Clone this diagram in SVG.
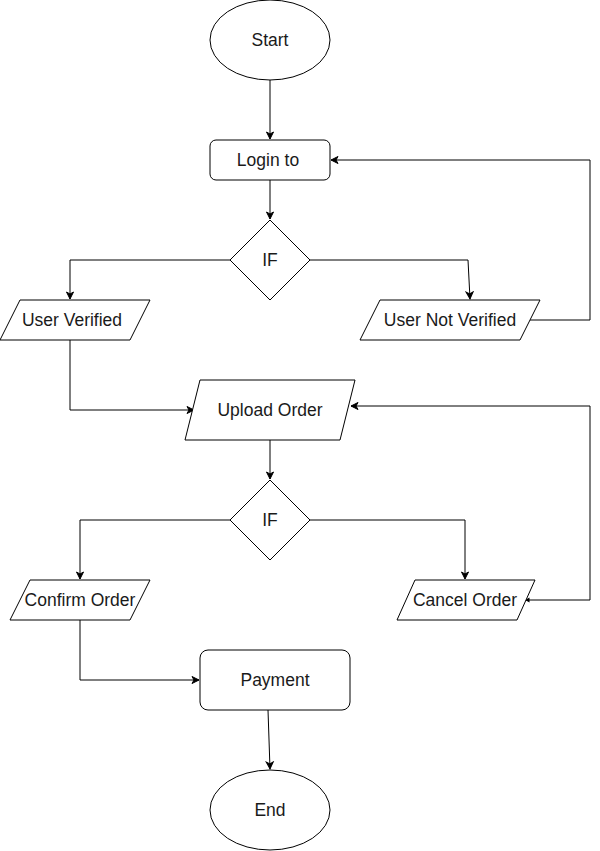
<svg xmlns="http://www.w3.org/2000/svg" width="600" height="851" viewBox="0 0 600 851">
<style>
.s{fill:#fff;stroke:#000;stroke-width:1}
.t{font-family:"Liberation Sans",Arial,sans-serif;font-size:17.5px;fill:#1a1a1a;text-anchor:middle;dominant-baseline:central}
.c{fill:none;stroke:#000;stroke-width:1}
</style>
<defs>
<marker id="a" markerWidth="10" markerHeight="10" refX="8" refY="5" orient="auto" markerUnits="userSpaceOnUse">
<path d="M1,1.5 L8,5 L1,8.5 L3,5 Z" fill="#000" stroke="#000" stroke-width="1"/>
</marker>
<marker id="sm" markerWidth="6" markerHeight="6" refX="5" refY="3" orient="auto-start-reverse" markerUnits="userSpaceOnUse">
<path d="M0.5,0.5 L5,3 L0.5,5.5 Z" fill="#000"/>
</marker>
</defs>
<rect width="600" height="851" fill="#fff"/>
<g id="connectors">
<path class="c" d="M270,80 V139" marker-end="url(#a)"/>
<path class="c" d="M270,180 V219" marker-end="url(#a)"/>
<path class="c" d="M230,260 H70 V299" marker-end="url(#a)"/>
<path class="c" d="M310,260 H468 L470,299" marker-end="url(#a)"/>
<path class="c" d="M530,320 H590 V160 H331" marker-end="url(#a)"/>
<path class="c" d="M70,340 V410 H194" marker-end="url(#a)"/>
<path class="c" d="M270,440 V479" marker-end="url(#a)"/>
<path class="c" d="M230,520 H80 V579" marker-end="url(#a)"/>
<path class="c" d="M310,520 H465 V579" marker-end="url(#a)"/>
<path class="c" d="M525,600 H590 V406 H351" marker-start="url(#sm)" marker-end="url(#a)"/>
<path class="c" d="M80,620 V680 H199" marker-end="url(#a)"/>
<path class="c" d="M268,710 L270,769" marker-end="url(#a)"/>
</g>
<g id="start"><ellipse class="s" cx="270" cy="40" rx="60" ry="40"/><text class="t" x="270" y="40">Start</text></g>
<g id="login"><rect class="s" x="210" y="140" width="120" height="40" rx="6"/><text class="t" x="268" y="160">Login to</text></g>
<g id="if1"><polygon class="s" points="270,220 310,260 270,300 230,260"/><text class="t" x="270" y="260">IF</text></g>
<g id="userVerified"><polygon class="s" points="20,300 150,300 130,340 0,340"/><text class="t" x="72" y="320">User Verified</text></g>
<g id="userNotVerified"><polygon class="s" points="380,300 540,300 520,340 360,340"/><text class="t" x="450" y="320">User Not Verified</text></g>
<g id="uploadOrder"><polygon class="s" points="200,380 355,380 340,440 185,440"/><text class="t" x="270" y="410">Upload Order</text></g>
<g id="if2"><polygon class="s" points="270,480 310,520 270,560 230,520"/><text class="t" x="270" y="520">IF</text></g>
<g id="confirmOrder"><polygon class="s" points="30,580 150,580 130,620 10,620"/><text class="t" x="80" y="600">Confirm Order</text></g>
<g id="cancelOrder"><polygon class="s" points="415,580 535,580 517,620 397,620"/><text class="t" x="465" y="600">Cancel Order</text></g>
<g id="payment"><rect class="s" x="200" y="650" width="150" height="60" rx="8"/><text class="t" x="275" y="680">Payment</text></g>
<g id="end"><ellipse class="s" cx="270" cy="810" rx="60" ry="40"/><text class="t" x="270" y="810">End</text></g>
</svg>
